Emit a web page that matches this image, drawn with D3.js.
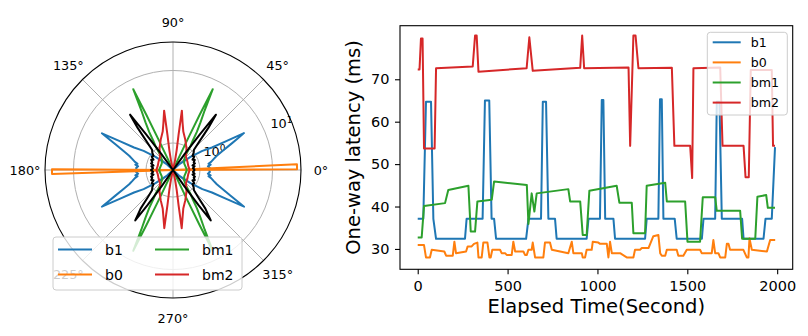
<!DOCTYPE html>
<html>
<head>
<meta charset="utf-8">
<script src="https://cdn.jsdelivr.net/npm/d3@7"></script>
<style>
	body { margin: 0; background: #fff; }
	svg { display: block; font-family: "DejaVu Sans", sans-serif; }
</style>
</head>
<body>
<script>
// ---- left: beam patterns, [angle in degrees, gain] (radial axis is log)
let b1Pattern = [
	[0,1.33],[3,1.37],[6,1.29],[8,1.42],[10,1.33],[12,1.46],[15,1.61],[18,1.83],[21,2.28],[24,3.14],[26,4.17],[27.5,5.38],[28.5,2.85],[30,1.77],[33,1.29],[37,0.85],[43,0.55],[50,0.42],
	[130,0.42],[137,0.55],[143,0.85],[147,1.29],[150,1.77],[151.5,2.85],[152.7,5.38],[154,4.17],[156,3.14],[159,2.28],[162,1.83],[165,1.61],[168,1.46],[170,1.33],[172,1.42],[174,1.29],[177,1.37],[180,1.33],
	[183,1.37],[186,1.29],[188,1.42],[190,1.33],[192,1.46],[195,1.61],[198,1.83],[201,2.28],[204,3.14],[206,4.17],[207.3,5.38],[208.5,2.85],[210,1.77],[213,1.29],[217,0.85],[223,0.55],[230,0.42],
	[310,0.42],[317,0.55],[323,0.85],[327,1.29],[330,1.77],[331.5,2.85],[332.7,5.38],[334,4.17],[336,3.14],[339,2.28],[342,1.83],[345,1.61],[348,1.46],[350,1.33],[352,1.42],[354,1.29],[357,1.37],[360,1.33]
]
let b0Pattern = [
	[0,0.42],[0.3,21.8],[2.6,21.8],[2.8,0.42],
	[179.5,0.42],[179.7,19.8],[181.9,19.8],[182.1,0.42],[360,0.42]
]
let bm1Pattern = [
	[0,0.66],[15,0.64],[30,0.64],[42,0.68],[50,0.80],[54,1.1],[56,1.3],[58,1.77],[60,2.43],[62,3.6],[63.8,7.4],[64.2,3.0],[64.5,1.3],[65,0.6],[66,0.42],
	[114,0.42],[115,0.6],[115.5,1.3],[115.8,3.0],[116.2,7.4],[118,3.6],[120,2.43],[122,1.77],[124,1.3],[126,1.1],[130,0.80],[138,0.68],[150,0.64],[165,0.64],[180,0.66],
	[195,0.64],[210,0.64],[222,0.68],[230,0.80],[234,1.1],[236,1.3],[238,1.77],[240,2.43],[242,3.6],[243.8,7.4],[244.2,3.0],[244.5,1.3],[245,0.6],[246,0.42],
	[294,0.42],[295,0.6],[295.5,1.3],[295.8,3.0],[296.2,7.4],[298,3.6],[300,2.43],[302,1.77],[304,1.3],[306,1.1],[310,0.80],[318,0.68],[330,0.64],[345,0.64],[360,0.66]
]
let bm2Pattern = [
	[0,0.72],[15,0.70],[30,0.72],[45,0.76],[58,0.95],[68,1.2],[75,1.5],[78.5,1.95],[81.5,2.85],[81,1.3],[79.5,0.8],[78,0.58],[80,0.42],
	[100,0.42],[102,0.58],[100.5,0.8],[99,1.3],[98.5,2.85],[101.5,1.95],[105,1.5],[112,1.2],[122,0.95],[135,0.76],[150,0.72],[165,0.70],[180,0.72],
	[195,0.70],[210,0.72],[225,0.76],[238,0.95],[248,1.2],[255,1.5],[258.5,1.95],[261.5,2.75],[261,1.3],[259.5,0.8],[258,0.58],[260,0.42],
	[280,0.42],[282,0.58],[280.5,0.8],[279,1.3],[278.5,2.75],[281.5,1.95],[285,1.5],[292,1.2],[302,0.95],[315,0.76],[330,0.72],[345,0.70],[360,0.72]
]
let refPattern = [
	[0,0.853],[5,0.80],[10,0.853],[13,0.80],[17,0.88],[20,0.853],[25,0.91],[28,0.853],[32,0.94],[36,0.91],[40,1.0],[44,1.07],[47,1.42],[50,2.43],[52.2,3.92],[53,1.77],[54,0.80],[55.5,0.42],
	[124.5,0.42],[126,0.80],[127,1.77],[127.8,3.92],[130,2.43],[133,1.42],[136,1.07],[140,1.0],[144,0.91],[148,0.94],[152,0.853],[155,0.91],[160,0.853],[163,0.88],[167,0.80],[170,0.853],[175,0.80],[180,0.853],
	[185,0.80],[190,0.853],[193,0.80],[197,0.88],[200,0.853],[205,0.91],[208,0.853],[212,0.94],[216,0.91],[220,1.0],[224,1.07],[227,1.35],[230,2.1],[233.2,3.14],[234,1.7],[235,0.8],[236.5,0.42],
	[303.5,0.42],[305,0.8],[306,1.7],[306.8,3.14],[310,2.1],[313,1.35],[316,1.07],[320,1.0],[324,0.91],[328,0.94],[332,0.853],[335,0.91],[340,0.853],[343,0.88],[347,0.80],[350,0.853],[355,0.80],[360,0.853]
]
let angleTicks = [0, 45, 90, 135, 180, 225, 270, 315]
let gainTicks = [1, 10]
let gainTickExp = ['0', '1']

// ---- right: one-way latency over time, [elapsed s, ms]
let b1Latency = [
	[0,37.1],[31,37.1],[46,64.7],[74,64.7],[87,37.1],[102,32.4],[263,32.4],[272,37.1],[361,37.1],[374,65],[398,65],[411,37.1],[425,37.1],[436,32.4],
	[603,32.4],[616,37.1],[686,37.1],[696,64.7],[714,64.7],[727,37.1],[764,37.1],[773,32.4],[940,32.4],[950,37.1],[1014,37.1],[1024,65.1],[1033,65.1],
	[1043,37.1],[1089,37.1],[1098,32.4],[1265,32.4],[1274,37.1],[1339,37.1],[1348,65.3],[1358,65.3],[1367,37.1],[1430,37.1],[1441,32.4],[1581,32.4],
	[1590,37.1],[1655,37.1],[1664,64.7],[1679,64.7],[1692,37.1],[1805,37.1],[1813,32.4],[1924,32.4],[1935,37.1],[1970,37.1],[1988,54]
]
let b0Latency = [
	[0,30.9],[35,30.9],[46,28.0],[68,28.0],[78,29.8],[148,29.4],[158,28.4],[195,28.4],[204,31.7],[213,29.0],[269,29.4],[278,30.6],[300,30.6],[313,31.2],
	[332,31.5],[338,28.0],[356,28.0],[365,31.5],[388,31.5],[399,28.0],[406,28.0],[415,29.8],[458,29.8],[467,29.0],[486,29.0],[495,28.6],[523,28.6],
	[532,31.7],[542,29.4],[588,29.4],[597,28.6],[607,28.6],[616,29.8],[634,29.8],[640,31.5],[653,28.0],[699,28.0],[708,31.5],[736,31.5],[746,29.8],
	[792,29.4],[838,29.0],[857,31.7],[866,29.0],[913,29.0],[918,28.0],[931,28.0],[940,29.8],[968,29.8],[974,31.7],[1005,31.5],[1015,31.2],[1052,31.2],
	[1061,28.0],[1070,31.7],[1080,29.0],[1126,29.0],[1163,28.0],[1200,28.0],[1209,29.8],[1237,29.8],[1247,30.2],[1284,30.2],[1311,33.0],[1339,33.3],
	[1349,29.0],[1358,28.4],[1377,28.4],[1386,29.8],[1441,29.8],[1450,28.4],[1478,28.4],[1497,29.8],[1571,29.8],[1580,29.0],[1636,29.0],[1645,32.1],
	[1655,29.0],[1673,29.0],[1683,28.0],[1711,28.0],[1720,31.2],[1729,31.2],[1738,29.8],[1812,29.8],[1831,28.0],[1840,28.0],[1846,32.5],[1859,29.8],
	[1943,29.4],[1961,32.1],[1989,32.1]
]
let bm1Latency = [
	[0,32.7],[22,32.7],[35,40.1],[152,40.8],[170,43.9],[282,44.9],[295,34.1],[319,34.1],[332,41.2],[412,41.6],[425,45.9],[607,45.1],[616,35.9],
	[634,43.1],[649,38.8],[662,43.1],[838,44.1],[848,41.2],[904,41.2],[918,33.3],[940,33.3],[955,43.7],[1107,44.9],[1122,40.9],[1191,40.9],
	[1200,33.7],[1265,33.7],[1274,44.9],[1377,45.6],[1386,41.2],[1488,41.2],[1501,31.7],[1571,31.7],[1586,42.2],[1655,42.2],[1664,39.0],
	[1794,39.0],[1805,32.4],[1878,32.4],[1890,42.3],[1939,42.7],[1948,39.7],[1988,39.7]
]
let bm2Latency = [
	[0,72.3],[10,72.3],[18,79.6],[27,79.6],[35,53.7],[94,53.7],[102,72.6],[306,73.0],[319,80.3],[328,80.3],[338,71.8],[606,72.6],[621,79.9],
	[640,72.0],[904,72.7],[915,80.3],[926,72.6],[1173,72.8],[1182,54.3],[1200,80.3],[1212,80.3],[1228,72.6],[1414,72.7],[1428,54.3],[1516,54.3],
	[1527,46.7],[1534,72.6],[1683,72.8],[1696,54.3],[1813,54.3],[1824,46.9],[1842,46.9],[1853,72.2],[1970,72.2],[1977,54.3],[1988,54.3]
]
let timeTicks = [0, 500, 1000, 1500, 2000]
let latencyTicks = [30, 40, 50, 60, 70]

let seriesNames = ['b1', 'b0', 'bm1', 'bm2']
let seriesColors = ['#1f77b4', '#ff7f0e', '#2ca02c', '#d62728']

let svg = d3.select('body').append('svg').attr('width', 808).attr('height', 336)

// ================= polar panel
let cx = 173, cy = 170, R = 128
let rScale = d3.scaleLog().domain([0.424, 24.7]).range([0, R]).clamp(true)
let toRad = a => a * Math.PI / 180

let polar = svg.append('g').attr('transform', `translate(${cx},${cy})`)

polar.selectAll('circle.grid').data(gainTicks).enter().append('circle')
	.attr('class', 'grid')
	.attr('r', d => rScale(d))
	.attr('fill', 'none').attr('stroke', '#b0b0b0').attr('stroke-width', 1)

polar.selectAll('line.spoke').data(angleTicks).enter().append('line')
	.attr('class', 'spoke')
	.attr('x1', 0).attr('y1', 0)
	.attr('x2', d => R * Math.cos(toRad(d)))
	.attr('y2', d => -R * Math.sin(toRad(d)))
	.attr('stroke', '#b0b0b0').attr('stroke-width', 1)

polar.selectAll('text.angle').data(angleTicks).enter().append('text')
	.attr('class', 'angle')
	.attr('x', d => 148 * Math.cos(toRad(d)))
	.attr('y', d => -148 * Math.sin(toRad(d)))
	.attr('dy', '0.36em')
	.attr('text-anchor', 'middle')
	.attr('font-size', 12.8)
	.text(d => d + '°')

gainTicks.forEach((g, i) => {
	let rr = rScale(g)
	let t = polar.append('text')
		.attr('x', rr * Math.cos(toRad(22.5)) + 5.5)
		.attr('y', rr * -Math.sin(toRad(22.5)) - 4)
		.attr('font-size', 12.8)
	t.append('tspan').text('10')
	t.append('tspan').attr('dy', -5).attr('font-size', 9).text(gainTickExp[i])
})

let radial = d3.lineRadial()
	.angle(d => toRad(90 - d[0]))
	.radius(d => rScale(d[1]))

let patterns = [b1Pattern, b0Pattern, bm1Pattern, bm2Pattern]
patterns.forEach((p, i) => {
	polar.append('path').attr('d', radial(p))
		.attr('fill', 'none').attr('stroke', seriesColors[i]).attr('stroke-width', 2)
		.attr('stroke-linejoin', 'round')
})
polar.append('path').attr('d', radial(refPattern))
	.attr('fill', 'none').attr('stroke', '#000').attr('stroke-width', 2)
	.attr('stroke-linejoin', 'round')

polar.append('circle').attr('r', R)
	.attr('fill', 'none').attr('stroke', '#000').attr('stroke-width', 1.1)

// polar legend, two columns
let pLeg = svg.append('g')
pLeg.append('rect')
	.attr('x', 53).attr('y', 237).attr('width', 189).attr('height', 53).attr('rx', 3)
	.attr('fill', '#fff').attr('fill-opacity', 0.8)
	.attr('stroke', '#ccc').attr('stroke-width', 1)
seriesNames.forEach((n, i) => {
	let col = i < 2 ? 0 : 1
	let row = i % 2
	let lx = col == 0 ? 58 : 155
	let ly = 249.5 + row * 25
	pLeg.append('line').attr('x1', lx).attr('x2', lx + 34).attr('y1', ly).attr('y2', ly)
		.attr('stroke', seriesColors[i]).attr('stroke-width', 2)
	pLeg.append('text').attr('x', lx + 47).attr('y', ly).attr('dy', '0.36em')
		.attr('font-size', 14).text(n)
})

// ================= latency panel
let axLeft = 400, axRight = 792.7, axTop = 25.7, axBottom = 269.3
let x = d3.scaleLinear().domain([-98.6, 2086.4]).range([axLeft, axRight])
let y = d3.scaleLinear().domain([25.2, 82.63]).range([axBottom, axTop])

let plot = svg.append('g')

let line = d3.line().x(d => x(d[0])).y(d => y(d[1]))
let latencies = [b1Latency, b0Latency, bm1Latency, bm2Latency]
latencies.forEach((s, i) => {
	plot.append('path').attr('d', line(s))
		.attr('fill', 'none').attr('stroke', seriesColors[i]).attr('stroke-width', 2)
		.attr('stroke-linejoin', 'round')
})

let xAxis = svg.append('g').attr('transform', `translate(0,${axBottom})`)
	.call(d3.axisBottom(x).tickValues(timeTicks).tickFormat(d3.format('d')).tickSize(5).tickPadding(6.5))
let yAxis = svg.append('g').attr('transform', `translate(${axLeft},0)`)
	.call(d3.axisLeft(y).tickValues(latencyTicks).tickFormat(d3.format('d')).tickSize(5).tickPadding(5.5))
;[xAxis, yAxis].forEach(a => {
	a.select('.domain').remove()
	a.selectAll('text').attr('font-size', 14.5).attr('font-family', '"DejaVu Sans", sans-serif').attr('fill', '#000')
	a.selectAll('line').attr('stroke', '#000').attr('stroke-width', 1.1)
})

svg.append('rect')
	.attr('x', axLeft).attr('y', axTop).attr('width', axRight - axLeft).attr('height', axBottom - axTop)
	.attr('fill', 'none').attr('stroke', '#000').attr('stroke-width', 1.1)

svg.append('text')
	.attr('x', (axLeft + axRight) / 2).attr('y', 313)
	.attr('text-anchor', 'middle').attr('font-size', 19.5)
	.text('Elapsed Time(Second)')
svg.append('text')
	.attr('transform', `translate(359.5,${(axTop + axBottom) / 2}) rotate(-90)`)
	.attr('text-anchor', 'middle').attr('font-size', 19.5)
	.text('One-way latency (ms)')

// right legend
let rLeg = svg.append('g')
rLeg.append('rect')
	.attr('x', 707.3).attr('y', 32.3).attr('width', 80).attr('height', 82.7).attr('rx', 3)
	.attr('fill', '#fff').attr('fill-opacity', 0.8)
	.attr('stroke', '#ccc').attr('stroke-width', 1)
seriesNames.forEach((n, i) => {
	let ly = 42.3 + i * 20.1
	rLeg.append('line').attr('x1', 712.7).attr('x2', 740.7).attr('y1', ly).attr('y2', ly)
		.attr('stroke', seriesColors[i]).attr('stroke-width', 2)
	rLeg.append('text').attr('x', 750.7).attr('y', ly).attr('dy', '0.36em')
		.attr('font-size', 12.6).text(n)
})
</script>
</body>
</html>
